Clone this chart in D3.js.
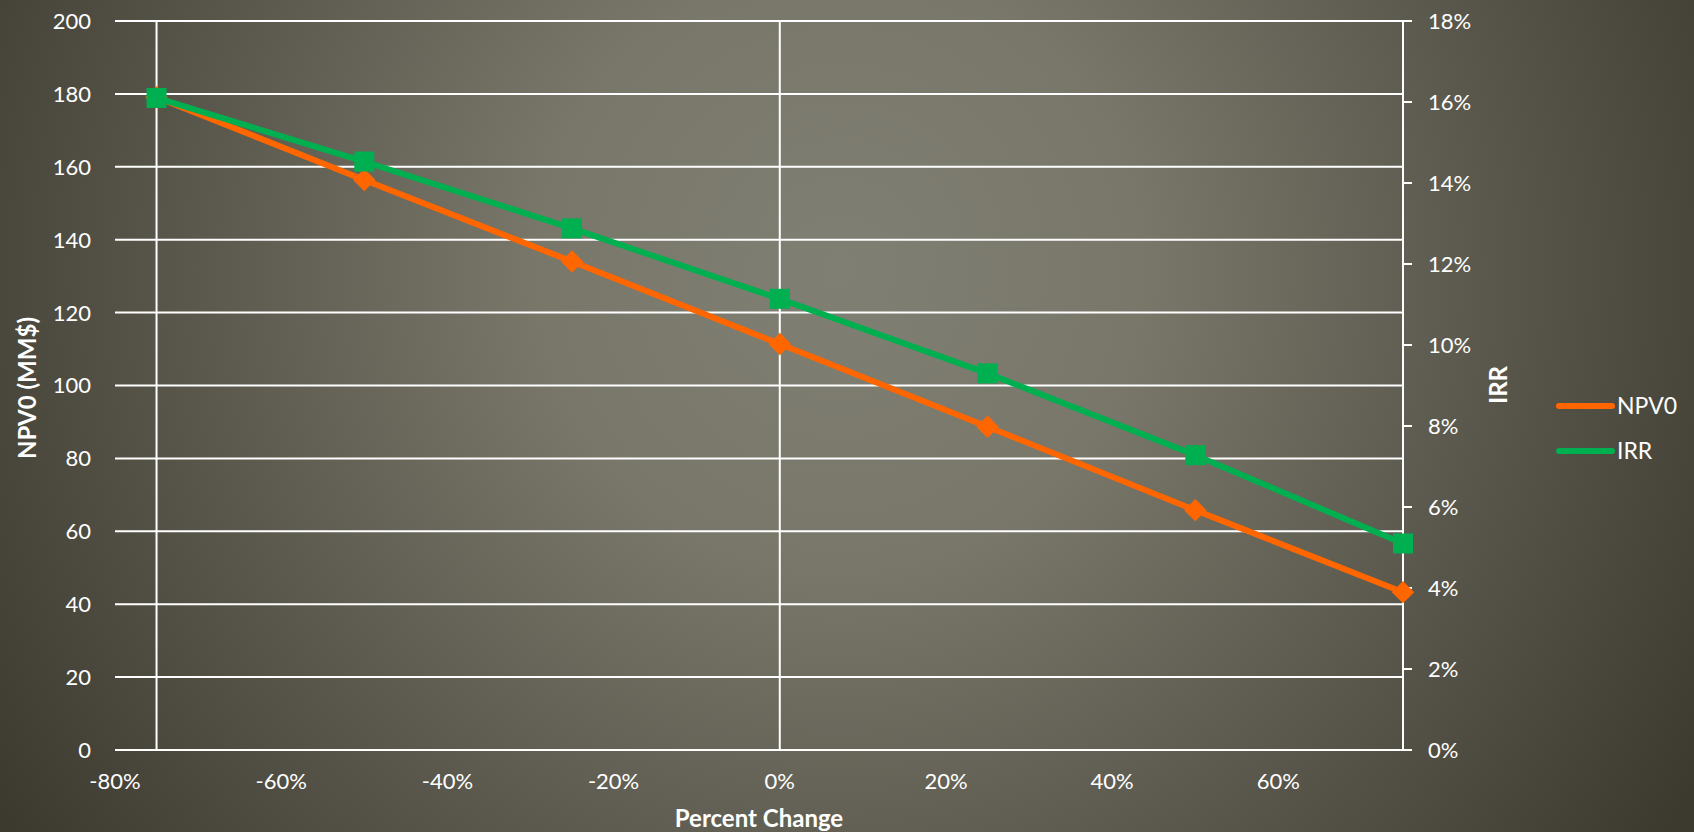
<!DOCTYPE html>
<html>
<head>
<meta charset="utf-8">
<script src="https://cdn.jsdelivr.net/npm/d3@7"></script>
<style>
  html, body { margin: 0; padding: 0; background: #3e3c31; }
  svg { display: block; }
  text { font-family: Lato, "Noto Sans", sans-serif; fill: #ffffff; }
</style>
</head>
<body>
<svg id="chart" width="1694" height="832"></svg>
<script>
// Sensitivity of NPV0 and IRR to a percent change in the driver
const changes = [-0.75, -0.50, -0.25, 0.00, 0.25, 0.50, 0.75];
const npv0 = [179.1, 156.4, 134.0, 111.4, 88.7, 65.8, 43.3];      // MM$
const irr = [0.161, 0.1453, 0.1288, 0.1114, 0.0930, 0.0728, 0.0510];
const xTicks = [-0.8, -0.6, -0.4, -0.2, 0, 0.2, 0.4, 0.6];
const npvTicks = [0, 20, 40, 60, 80, 100, 120, 140, 160, 180, 200];
const irrTicks = [0, 0.02, 0.04, 0.06, 0.08, 0.10, 0.12, 0.14, 0.16, 0.18];
const xGridValues = [-0.75, 0];

const W = 1694, H = 832;
const plot = { left: 115, right: 1403, top: 21, bottom: 750 };
const ORANGE = "#ff6600", GREEN = "#00b050";

const svg = d3.select("#chart");

// background
const defs = svg.append("defs");
const grad = defs.append("radialGradient")
  .attr("id", "bg").attr("gradientUnits", "userSpaceOnUse")
  .attr("cx", 840).attr("cy", 270).attr("r", 1000)
  .attr("fx", 840).attr("fy", 270);
grad.append("stop").attr("offset", 0).attr("stop-color", "#807f73");
grad.append("stop").attr("offset", 0.3).attr("stop-color", "#78776a");
grad.append("stop").attr("offset", 0.65).attr("stop-color", "#5a584c");
grad.append("stop").attr("offset", 1).attr("stop-color", "#3c3a2e");
svg.append("rect").attr("width", W).attr("height", H).attr("fill", "url(#bg)");

const x = d3.scaleLinear().domain([-0.8, 0.75]).range([plot.left, plot.right]);
const yL = d3.scaleLinear().domain([0, 200]).range([plot.bottom, plot.top]);
const yR = d3.scaleLinear().domain([0, 0.18]).range([plot.bottom, plot.top]);

// percent labels with a plain hyphen for negatives
const pct = d => d3.format(".0%")(d).replace("\u2212", "-");

// horizontal gridlines (primary axis)
svg.append("g").selectAll("line").data(npvTicks).join("line")
  .attr("x1", plot.left).attr("x2", plot.right)
  .attr("y1", d => yL(d)).attr("y2", d => yL(d))
  .attr("stroke", "#ffffff").attr("stroke-width", 2);

// vertical lines
svg.append("g").selectAll("line").data(xGridValues).join("line")
  .attr("x1", d => x(d)).attr("x2", d => x(d))
  .attr("y1", plot.top).attr("y2", plot.bottom)
  .attr("stroke", "#ffffff").attr("stroke-width", 2);

// left axis labels
svg.append("g").selectAll("text").data(npvTicks).join("text")
  .attr("x", 91).attr("y", d => yL(d)).attr("dy", "0.36em")
  .attr("text-anchor", "end").attr("font-size", 22)
  .text(d => d);

// bottom axis labels
svg.append("g").selectAll("text").data(xTicks).join("text")
  .attr("x", d => x(d)).attr("y", 781).attr("dy", "0.36em")
  .attr("text-anchor", "middle").attr("font-size", 22)
  .text(d => pct(d));

// secondary (right) axis
const right = svg.append("g");
right.append("line")
  .attr("x1", plot.right).attr("x2", plot.right)
  .attr("y1", plot.top).attr("y2", plot.bottom)
  .attr("stroke", "#ffffff").attr("stroke-width", 2);
right.selectAll("line.tick").data(irrTicks).join("line")
  .attr("class", "tick")
  .attr("x1", plot.right).attr("x2", plot.right + 9)
  .attr("y1", d => yR(d)).attr("y2", d => yR(d))
  .attr("stroke", "#ffffff").attr("stroke-width", 2);
right.selectAll("text").data(irrTicks).join("text")
  .attr("x", 1428).attr("y", d => yR(d)).attr("dy", "0.36em")
  .attr("text-anchor", "start").attr("font-size", 22)
  .text(d => pct(d));

// axis titles
svg.append("text")
  .attr("transform", "translate(27,388) rotate(-90)")
  .attr("text-anchor", "middle").attr("dy", "0.36em")
  .attr("font-size", 24).attr("font-weight", "bold")
  .text("NPV0 (MM$)");
svg.append("text")
  .attr("transform", "translate(1498,385) rotate(-90)")
  .attr("text-anchor", "middle").attr("dy", "0.36em")
  .attr("font-size", 24).attr("font-weight", "bold")
  .text("IRR");
svg.append("text")
  .attr("x", 759).attr("y", 818).attr("dy", "0.36em")
  .attr("text-anchor", "middle")
  .attr("font-size", 24).attr("font-weight", "bold")
  .text("Percent Change");

const diamond = d3.symbol().type(d3.symbolDiamond2).size(320);
const square = d3.symbol().type(d3.symbolSquare).size(400);

// series
const npvPts = changes.map((c, i) => [x(c), yL(npv0[i])]);
const irrPts = changes.map((c, i) => [x(c), yR(irr[i])]);
const line = d3.line();

svg.append("path").attr("d", line(npvPts))
  .attr("fill", "none").attr("stroke", ORANGE).attr("stroke-width", 6)
  .attr("stroke-linejoin", "round");
svg.append("g").selectAll("path").data(npvPts).join("path")
  .attr("transform", d => `translate(${d[0]},${d[1]})`)
  .attr("d", diamond).attr("fill", ORANGE);

svg.append("path").attr("d", line(irrPts))
  .attr("fill", "none").attr("stroke", GREEN).attr("stroke-width", 6)
  .attr("stroke-linejoin", "round");
svg.append("g").selectAll("path").data(irrPts).join("path")
  .attr("transform", d => `translate(${d[0]},${d[1]})`)
  .attr("d", square).attr("fill", GREEN);

// legend
const legend = [
  { name: "NPV0", color: ORANGE, sym: diamond, y: 406 },
  { name: "IRR", color: GREEN, sym: square, y: 451 }
];
const lg = svg.append("g").selectAll("g").data(legend).join("g");
lg.append("line")
  .attr("x1", 1559).attr("x2", 1612)
  .attr("y1", d => d.y).attr("y2", d => d.y)
  .attr("stroke", d => d.color).attr("stroke-width", 6)
  .attr("stroke-linecap", "round");
lg.append("path")
  .attr("transform", d => `translate(1586,${d.y}) scale(0.9)`)
  .attr("d", d => d.sym).attr("fill", d => d.color);
lg.append("text")
  .attr("x", 1617).attr("y", d => d.y).attr("dy", "0.36em")
  .attr("font-size", 23)
  .text(d => d.name);
</script>
</body>
</html>
